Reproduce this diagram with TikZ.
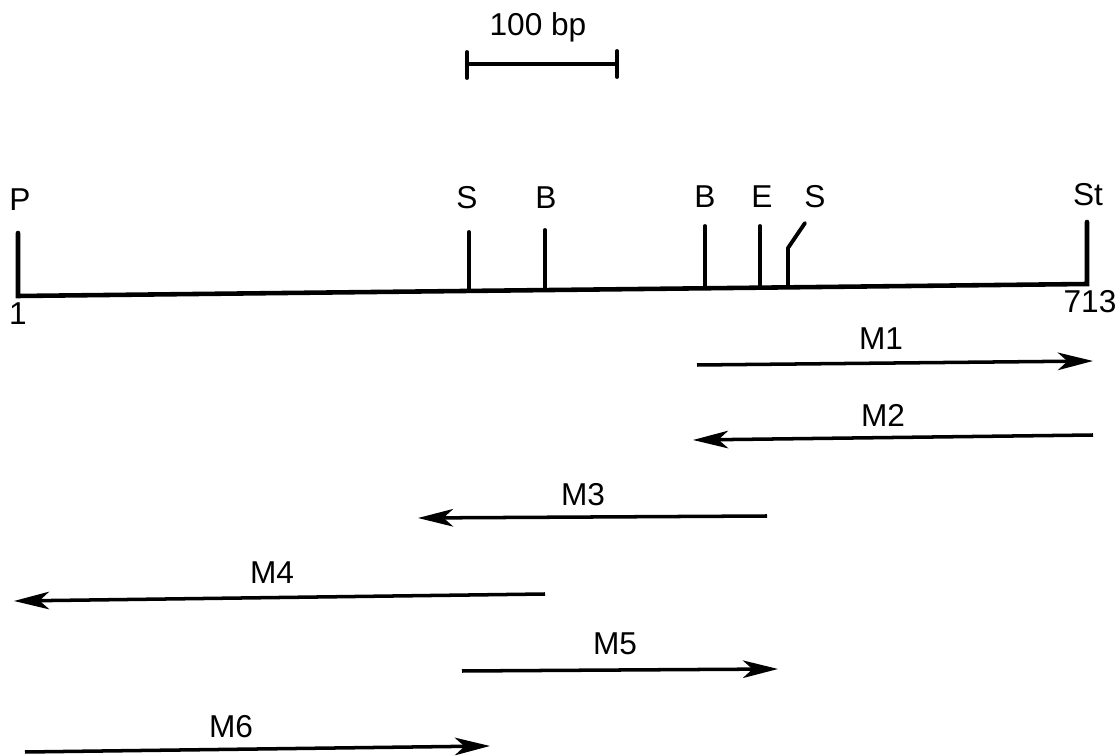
\documentclass[tikz,border=0pt]{standalone}
\usepackage{fontspec}
\setmainfont{Liberation Sans}
\usetikzlibrary{arrows.meta}
\begin{document}
\begin{tikzpicture}[x=0.02cm,y=-0.02cm,
  lbl/.style={inner sep=0pt,font=\fontsize{18}{21}\selectfont},
  mainline/.style={line width=2.6pt,line cap=round,line join=miter},
  tickline/.style={line width=2.2pt,line cap=round},
  frag/.style={line width=2pt,-{Stealth[length=20pt,width=10pt,inset=5.5pt]}}]
\useasboundingbox (0,0) rectangle (1120,756);
% scale bar
\coordinate (sbL) at (467,64);
\coordinate (sbR) at (617,64);
\draw[tickline] (sbL) -- (sbR);
\draw[tickline] (467,52) -- (467,78);
\draw[tickline] (617,51) -- (617,77);
\node[lbl] (sblabel) at (538,27) {100 bp};
% main map line
\coordinate (Ptop) at (18,233);
\coordinate (L) at (18,296);
\coordinate (R) at (1087,284);
\coordinate (Sttop) at (1087,222);
\draw[mainline] (Ptop) -- (L) -- (R) -- (Sttop);
% site ticks
\coordinate (t1) at (469,232); \coordinate (b1) at (469,291);
\coordinate (t2) at (545,230); \coordinate (b2) at (545,290);
\coordinate (t3) at (705,226); \coordinate (b3) at (705,288);
\coordinate (t4) at (760,226); \coordinate (b4) at (760,288);
\coordinate (t5) at (805,223); \coordinate (k5) at (788,248); \coordinate (b5) at (788,287);
\draw[tickline] (t1) -- (b1);
\draw[tickline] (t2) -- (b2);
\draw[tickline] (t3) -- (b3);
\draw[tickline] (t4) -- (b4);
\draw[tickline,line join=round] (t5) -- (k5) -- (b5);
% labels
\node[lbl] (lP) at (20,200) {P};
\node[lbl] (lS1) at (467,198) {S};
\node[lbl] (lB1) at (546,198) {B};
\node[lbl] (lB2) at (705,197) {B};
\node[lbl] (lE) at (762,197) {E};
\node[lbl] (lS2) at (815,197) {S};
\node[lbl] (lSt) at (1088,195) {St};
\node[lbl] (l1) at (18,314) {1};
\node[lbl] (l713) at (1090,302) {713};
% fragments
\coordinate (m1a) at (697,365); \coordinate (m1b) at (1093,361);
\draw[frag] (m1a) -- (m1b);
\node[lbl] (M1) at (881,339) {M1};
\coordinate (m2a) at (1093,435); \coordinate (m2b) at (693,440);
\draw[frag] (m2a) -- (m2b);
\node[lbl] (M2) at (883,415) {M2};
\coordinate (m3a) at (767,516); \coordinate (m3b) at (418,518);
\draw[frag] (m3a) -- (m3b);
\node[lbl] (M3) at (583,495) {M3};
\coordinate (m4a) at (545,594); \coordinate (m4b) at (14,601);
\draw[frag] (m4a) -- (m4b);
\node[lbl] (M4) at (272,573) {M4};
\coordinate (m5a) at (462,671); \coordinate (m5b) at (778,669);
\draw[frag] (m5a) -- (m5b);
\node[lbl] (M5) at (615,644) {M5};
\coordinate (m6a) at (25,752); \coordinate (m6b) at (490,746);
\draw[frag] (m6a) -- (m6b);
\node[lbl] (M6) at (231,727) {M6};
\end{tikzpicture}
\end{document}
